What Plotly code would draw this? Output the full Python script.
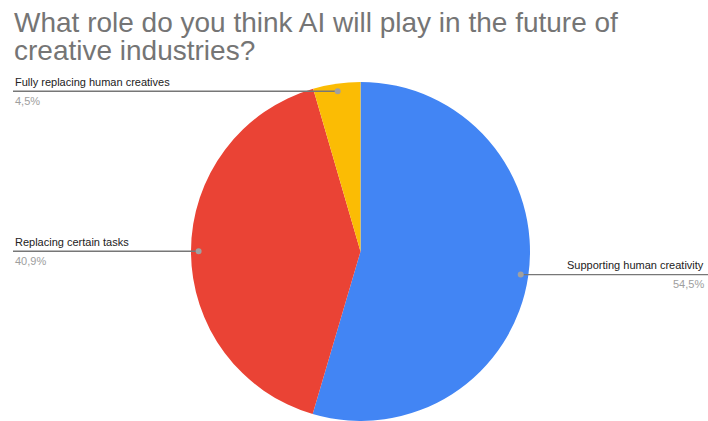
import math
import plotly.graph_objects as go

labels = ["Supporting human creativity", "Replacing certain tasks", "Fully replacing human creatives"]
values = [54.5, 40.9, 4.5]
pct_text = ["54,5%", "40,9%", "4,5%"]
colors = ["#4285F4", "#EA4335", "#FBBC04"]
title_lines = ["What role do you think AI will play in the future of", "creative industries?"]

W, H = 708, 421
CX, CY, R = 360.5, 251.5, 169.5  # pixel center / radius of pie


def px(x):
    return x / W


def py(y):
    return 1 - y / H


fig = go.Figure(go.Pie(
    labels=labels, values=values, marker=dict(colors=colors, line=dict(width=0)),
    sort=False, direction="clockwise", rotation=0, textinfo="none",
    hoverinfo="label+percent", showlegend=False,
    domain=dict(x=[px(CX - R), px(CX + R)], y=[py(CY + R), py(CY - R)]),
))

shapes = []
annotations = []
total = sum(values)
cum = 0.0
font = "Liberation Sans, Arial, sans-serif"
for i, v in enumerate(values):
    mid = (cum + v / 2) / total * 2 * math.pi
    cum += v
    dx = R * 0.955 * math.sin(mid)
    dy = -R * 0.955 * math.cos(mid)
    ex, ey = CX + dx, CY + dy
    right = dx > 0
    lx = W if right else 13
    shapes.append(dict(type="line", xref="paper", yref="paper",
                       x0=px(ex), y0=py(ey), x1=px(lx), y1=py(ey),
                       line=dict(color="#777777", width=1.3)))
    shapes.append(dict(type="circle", xref="paper", yref="paper",
                       x0=px(ex - 3), y0=py(ey - 3), x1=px(ex + 3), y1=py(ey + 3),
                       fillcolor="#a0a0a0", line=dict(width=0)))
    tx = W - 2 if right else 13
    xa = "right" if right else "left"
    annotations.append(dict(text=labels[i], xref="paper", yref="paper",
                            x=px(tx), y=py(ey - 1.5), xanchor=xa, yanchor="bottom",
                            showarrow=False, font=dict(family=font, size=11, color="#222222")))
    annotations.append(dict(text=pct_text[i], xref="paper", yref="paper",
                            x=px(tx), y=py(ey + 1.5), xanchor=xa, yanchor="top",
                            showarrow=False, font=dict(family=font, size=11, color="#9e9e9e")))

for j, line in enumerate(title_lines):
    annotations.append(dict(text=line, xref="paper", yref="paper",
                            x=px(12), y=py(5 + 28 * j), xanchor="left", yanchor="top",
                            showarrow=False, font=dict(family=font, size=28, color="#757575")))

fig.update_layout(
    width=W, height=H, margin=dict(l=0, r=0, t=0, b=0),
    paper_bgcolor="white", plot_bgcolor="white",
    shapes=shapes, annotations=annotations,
)
fig.write_html("out.html")
